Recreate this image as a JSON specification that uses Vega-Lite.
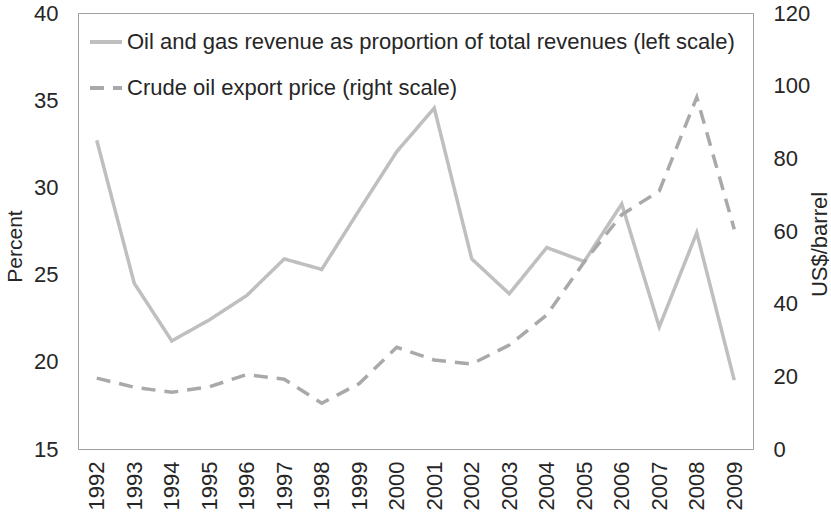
{
  "$schema": "https://vega.github.io/schema/vega-lite/v6.json",
  "width": 675,
  "height": 436,
  "autosize": {"type": "none"},
  "padding": {"left": 78, "top": 13, "right": 78, "bottom": 68},
  "background": "white",
  "config": {
    "font": "Liberation Sans",
    "view": {"stroke": "#a0a0a0", "strokeWidth": 1},
    "axis": {"labelFontSize": 22, "labelColor": "#262626", "titleFontSize": 22, "titleColor": "#262626", "titleFontWeight": "normal", "ticks": false, "domain": false, "grid": false}
  },
  "data": {
    "values": [
      {"year": 1992, "series": "Oil and gas revenue as proportion of total revenues (left scale)", "value": 32.7},
      {"year": 1993, "series": "Oil and gas revenue as proportion of total revenues (left scale)", "value": 24.5},
      {"year": 1994, "series": "Oil and gas revenue as proportion of total revenues (left scale)", "value": 21.2},
      {"year": 1995, "series": "Oil and gas revenue as proportion of total revenues (left scale)", "value": 22.4},
      {"year": 1996, "series": "Oil and gas revenue as proportion of total revenues (left scale)", "value": 23.8},
      {"year": 1997, "series": "Oil and gas revenue as proportion of total revenues (left scale)", "value": 25.9},
      {"year": 1998, "series": "Oil and gas revenue as proportion of total revenues (left scale)", "value": 25.3},
      {"year": 1999, "series": "Oil and gas revenue as proportion of total revenues (left scale)", "value": 28.7},
      {"year": 2000, "series": "Oil and gas revenue as proportion of total revenues (left scale)", "value": 32.05},
      {"year": 2001, "series": "Oil and gas revenue as proportion of total revenues (left scale)", "value": 34.55},
      {"year": 2002, "series": "Oil and gas revenue as proportion of total revenues (left scale)", "value": 25.9},
      {"year": 2003, "series": "Oil and gas revenue as proportion of total revenues (left scale)", "value": 23.9},
      {"year": 2004, "series": "Oil and gas revenue as proportion of total revenues (left scale)", "value": 26.55},
      {"year": 2005, "series": "Oil and gas revenue as proportion of total revenues (left scale)", "value": 25.75},
      {"year": 2006, "series": "Oil and gas revenue as proportion of total revenues (left scale)", "value": 29.05},
      {"year": 2007, "series": "Oil and gas revenue as proportion of total revenues (left scale)", "value": 22.0},
      {"year": 2008, "series": "Oil and gas revenue as proportion of total revenues (left scale)", "value": 27.4},
      {"year": 2009, "series": "Oil and gas revenue as proportion of total revenues (left scale)", "value": 18.95},
      {"year": 1992, "series": "Crude oil export price (right scale)", "value": 19.5},
      {"year": 1993, "series": "Crude oil export price (right scale)", "value": 17.0},
      {"year": 1994, "series": "Crude oil export price (right scale)", "value": 15.6},
      {"year": 1995, "series": "Crude oil export price (right scale)", "value": 17.1},
      {"year": 1996, "series": "Crude oil export price (right scale)", "value": 20.5},
      {"year": 1997, "series": "Crude oil export price (right scale)", "value": 19.2},
      {"year": 1998, "series": "Crude oil export price (right scale)", "value": 12.6},
      {"year": 1999, "series": "Crude oil export price (right scale)", "value": 18.0},
      {"year": 2000, "series": "Crude oil export price (right scale)", "value": 28.0},
      {"year": 2001, "series": "Crude oil export price (right scale)", "value": 24.5},
      {"year": 2002, "series": "Crude oil export price (right scale)", "value": 23.4},
      {"year": 2003, "series": "Crude oil export price (right scale)", "value": 28.6},
      {"year": 2004, "series": "Crude oil export price (right scale)", "value": 36.9},
      {"year": 2005, "series": "Crude oil export price (right scale)", "value": 51.5},
      {"year": 2006, "series": "Crude oil export price (right scale)", "value": 64.5},
      {"year": 2007, "series": "Crude oil export price (right scale)", "value": 71.0},
      {"year": 2008, "series": "Crude oil export price (right scale)", "value": 96.8},
      {"year": 2009, "series": "Crude oil export price (right scale)", "value": 60.5}
    ]
  },
  "encoding": {
    "x": {
      "field": "year",
      "type": "ordinal",
      "scale": {"padding": 0.5},
      "axis": {"title": null, "labelAngle": -90, "labelPadding": 12}
    },
    "color": {
      "field": "series",
      "type": "nominal",
      "scale": {
        "domain": ["Oil and gas revenue as proportion of total revenues (left scale)", "Crude oil export price (right scale)"],
        "range": ["#bfbfbf", "#a8a9ab"]
      },
      "legend": {
        "title": null,
        "orient": "none",
        "legendX": 10,
        "legendY": 11,
        "symbolType": "stroke",
        "symbolSize": 1024,
        "symbolStrokeWidth": 4,
        "labelFontSize": 22,
        "labelColor": "#262626",
        "labelOffset": 3,
        "labelLimit": 800,
        "rowPadding": 17
      }
    },
    "strokeDash": {
      "field": "series",
      "type": "nominal",
      "scale": {
        "domain": ["Oil and gas revenue as proportion of total revenues (left scale)", "Crude oil export price (right scale)"],
        "range": [[1, 0], [14, 9]]
      },
      "legend": {
        "title": null,
        "orient": "none",
        "legendX": 10,
        "legendY": 11,
        "symbolType": "stroke",
        "symbolSize": 1024,
        "symbolStrokeWidth": 4,
        "labelFontSize": 22,
        "labelColor": "#262626",
        "labelOffset": 3,
        "labelLimit": 800,
        "rowPadding": 17
      }
    }
  },
  "layer": [
    {
      "transform": [{"filter": {"field": "series", "equal": "Oil and gas revenue as proportion of total revenues (left scale)"}}],
      "mark": {"type": "line", "strokeWidth": 3.5},
      "encoding": {
        "y": {
          "field": "value",
          "type": "quantitative",
          "scale": {"domain": [15, 40], "nice": false, "zero": false},
          "axis": {"orient": "left", "values": [15, 20, 25, 30, 35, 40], "labelPadding": 20, "title": "Percent", "titleFontSize": 21, "titleX": -63, "titleY": 233, "titleAngle": -90, "titleAlign": "center", "titleBaseline": "middle"}
        }
      }
    },
    {
      "transform": [{"filter": {"field": "series", "equal": "Crude oil export price (right scale)"}}],
      "mark": {"type": "line", "strokeWidth": 3.5},
      "encoding": {
        "y": {
          "field": "value",
          "type": "quantitative",
          "scale": {"domain": [0, 120], "nice": false},
          "axis": {"orient": "right", "values": [0, 20, 40, 60, 80, 100, 120], "labelPadding": 20, "title": "US$/barrel", "titleX": 66, "titleY": 231, "titleAngle": -90, "titleAlign": "center", "titleBaseline": "middle"}
        }
      }
    }
  ],
  "resolve": {"scale": {"y": "independent"}}
}
